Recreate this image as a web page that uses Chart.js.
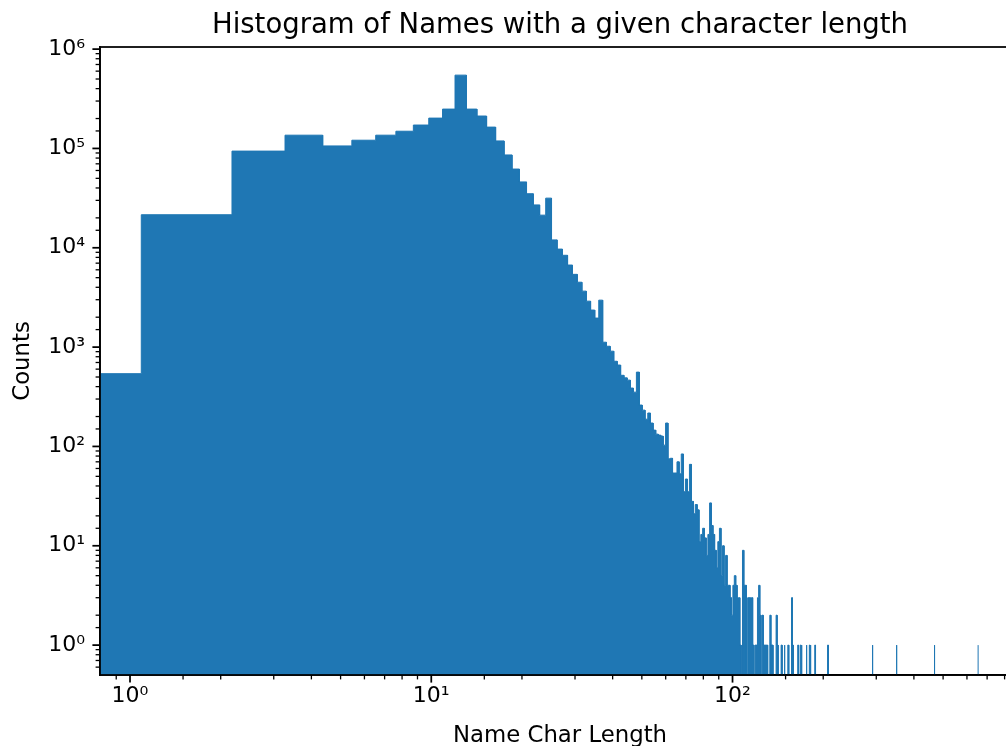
<!DOCTYPE html>
<html>
<head>
<meta charset="utf-8">
<script src="https://cdn.jsdelivr.net/npm/chart.js@4.4.1/dist/chart.umd.min.js"></script>
<style>
  html, body { margin: 0; padding: 0; background: #fff; overflow: hidden; }
  #wrap { width: 1006px; height: 746px; overflow: hidden; position: relative; }
  #hist { position: absolute; left: 0; top: 0; }
</style>
</head>
<body>
<div id="wrap"><canvas id="hist" width="1028" height="750"></canvas></div>
<script>
const chartTitle = 'Histogram of Names with a given character length';
const xTitle = 'Name Char Length';
const yTitle = 'Counts';

// histogram bins: bin i covers [i * binWidth, (i + 1) * binWidth)
const binWidth = 1.09;
const binCount = 600;
// counts for bins 0..145
const counts = [
  540, 21500, 94000, 136000, 106000, 121000, 136000, 149000, 172000, 202000,
  249000, 547000, 249000, 212000, 164000, 119000, 86000, 62000, 46000, 35000,
  27000, 21300, 31600, 12000, 9700, 8400, 6700, 5400, 4500, 3660,
  2900, 2360, 1960, 2970, 1120, 1020, 910, 720, 660, 520,
  490, 465, 387, 352, 560, 261, 232, 188, 217, 172,
  146, 133, 130, 127, 103, 172, 75, 76, 54, 54,
  70, 53, 84, 35, 47, 35, 66, 28, 21, 26,
  23, 11, 13, 15, 12, 8, 13, 27, 16, 13,
  9, 6, 11, 15, 5, 10, 4, 8, 4, 4,
  3, 2, 4, 5, 4, 3, 3, 1, 0, 9,
  4, 4, 0, 3, 3, 3, 3, 1, 0, 1,
  1, 3, 4, 2, 0, 2, 1, 1, 1, 1,
  0, 0, 2, 1, 1, 0, 0, 0, 2, 1,
  0, 0, 0, 1, 0, 0, 1, 0, 0, 0,
  1, 0, 0, 0, 3, 1
];
// sparse tail: the few long names
const tailBins = [151, 154, 161, 165, 172, 190, 267, 321, 428, 599];
const tailCounts = [1, 1, 1, 1, 1, 1, 1, 1, 1, 1];

const xTickValues = [1, 10, 100];
const xTickLabels = ['10⁰', '10¹', '10²'];
const yTickValues = [1, 10, 100, 1000, 10000, 100000, 1000000];
const yTickLabels = ['10⁰', '10¹', '10²', '10³', '10⁴', '10⁵', '10⁶'];

const barColor = '#1f77b4';
const FLOOR = 0.1; // below the y axis minimum, clipped away

function countFor(i) {
  if (i < counts.length) return counts[i];
  const k = tailBins.indexOf(i);
  return k >= 0 ? tailCounts[k] : 0;
}

// step outline of the histogram
const outline = [];
for (let i = 0; i < binCount; i++) {
  const c = countFor(i);
  const y = c > 0 ? c : FLOOR;
  const left = i === 0 ? FLOOR : i * binWidth;
  outline.push({x: left, y: y});
  outline.push({x: (i + 1) * binWidth, y: y});
}

function labelFor(values, labels, v) {
  const k = values.findIndex(t => Math.abs(t - v) < 1e-9 * t);
  return k >= 0 ? labels[k] : '';
}

function isPow10(v) {
  const e = Math.log10(v);
  return Math.abs(e - Math.round(e)) < 1e-9;
}

const tickFont = {family: 'DejaVu Sans', size: 22};
const titleFont = {family: 'DejaVu Sans', size: 22.8};

// spines, matplotlib style tick marks and the title
const frame = {
  id: 'frame',
  afterDraw(chart) {
    const ctx = chart.ctx;
    const a = chart.chartArea;
    ctx.save();
    ctx.strokeStyle = '#000';
    ctx.lineWidth = 1.75;
    ctx.strokeRect(a.left, a.top, a.right - a.left, a.bottom - a.top);

    const xs = chart.scales.x, ys = chart.scales.y;
    xs.ticks.forEach(t => {
      if (t.value <= xs.min || t.value >= xs.max) return;
      const px = xs.getPixelForValue(t.value);
      const major = isPow10(t.value);
      ctx.lineWidth = major ? 1.75 : 1.3;
      ctx.beginPath();
      ctx.moveTo(px, a.bottom);
      ctx.lineTo(px, a.bottom + (major ? 7.6 : 4.4));
      ctx.stroke();
    });
    ys.ticks.forEach(t => {
      if (t.value <= ys.min || t.value >= ys.max) return;
      const py = ys.getPixelForValue(t.value);
      const major = isPow10(t.value);
      ctx.lineWidth = major ? 1.75 : 1.3;
      ctx.beginPath();
      ctx.moveTo(a.left, py);
      ctx.lineTo(a.left - (major ? 7.6 : 4.4), py);
      ctx.stroke();
    });

    ctx.fillStyle = '#000';
    ctx.font = '27.5px "DejaVu Sans"';
    ctx.textAlign = 'center';
    ctx.textBaseline = 'alphabetic';
    ctx.fillText(chartTitle, (a.left + a.right) / 2, 33);
    ctx.restore();
  }
};

new Chart(document.getElementById('hist'), {
  type: 'line',
  data: {
    datasets: [{
      data: outline,
      borderColor: barColor,
      backgroundColor: barColor,
      borderWidth: 1,
      fill: 'start',
      pointRadius: 0,
      tension: 0,
      clip: 0
    }]
  },
  options: {
    responsive: false,
    animation: false,
    layout: {padding: {top: 47, right: 0, left: 0, bottom: 0}},
    plugins: {legend: {display: false}, tooltip: {enabled: false}, title: {display: false}},
    scales: {
      x: {
        type: 'logarithmic',
        min: 0.795,
        max: 900,
        afterFit: s => { s.height = 75; },
        grid: {display: true, drawOnChartArea: false, drawTicks: false},
        border: {display: true, color: '#000', width: 1.75},
        ticks: {
          autoSkip: false, maxRotation: 0, padding: 8, color: '#000', font: tickFont,
          callback: v => labelFor(xTickValues, xTickLabels, v)
        },
        title: {display: true, text: xTitle, color: '#000', font: titleFont, padding: {top: 0, bottom: 0}}
      },
      y: {
        type: 'logarithmic',
        min: 0.5,
        max: 1.05e6,
        afterFit: s => { s.width = 100; },
        grid: {display: true, drawOnChartArea: false, drawTicks: false},
        border: {display: true, color: '#000', width: 1.75},
        ticks: {
          autoSkip: false, padding: 15, color: '#000', font: tickFont,
          callback: v => labelFor(yTickValues, yTickLabels, v)
        },
        title: {display: true, text: yTitle, color: '#000', font: titleFont, padding: {top: 9, bottom: 0}}
      }
    }
  },
  plugins: [frame]
});
</script>
</body>
</html>
